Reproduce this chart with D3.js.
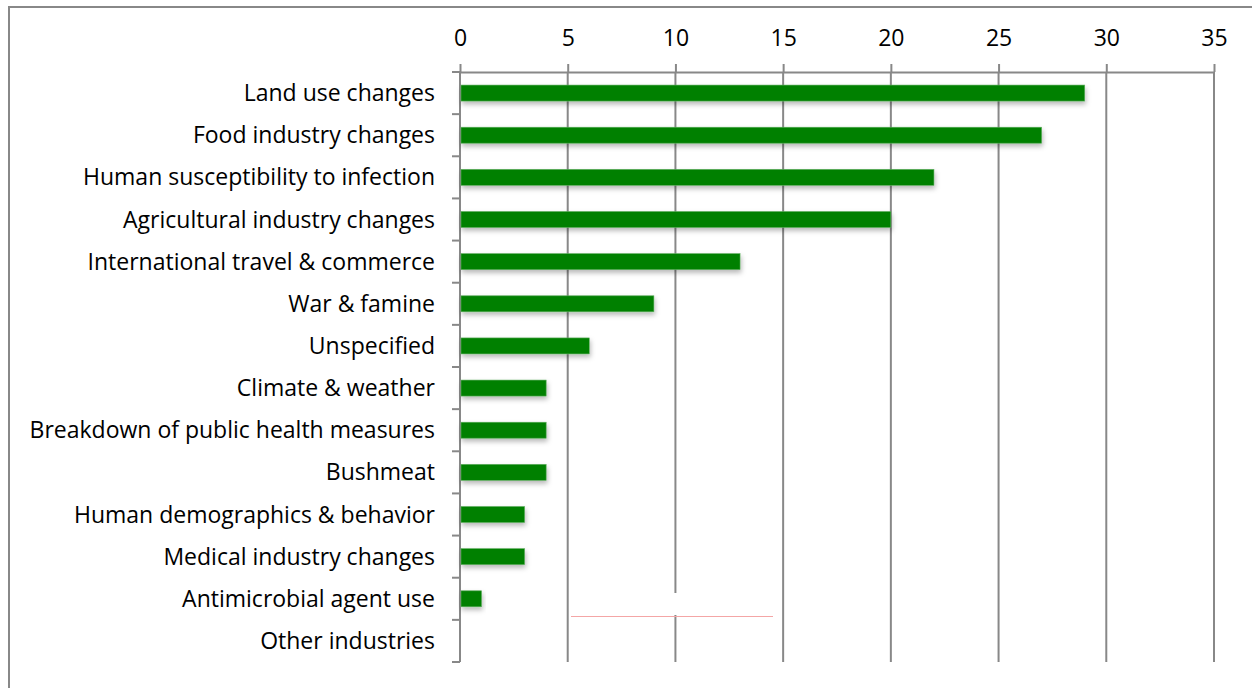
<!DOCTYPE html>
<html>
<head>
<meta charset="utf-8">
<script src="https://cdn.jsdelivr.net/npm/d3@7"></script>
<style>
  body { margin: 0; background: #fff; }
  svg { display: block; }
</style>
</head>
<body>
<div class="container"></div>
<script>
// chart data
const categories = [
  "Land use changes", "Food industry changes", "Human susceptibility to infection",
  "Agricultural industry changes", "International travel & commerce", "War & famine",
  "Unspecified", "Climate & weather", "Breakdown of public health measures",
  "Bushmeat", "Human demographics & behavior", "Medical industry changes",
  "Antimicrobial agent use", "Other industries"
];
const values = [29, 27, 22, 20, 13, 9, 6, 4, 4, 4, 3, 3, 1, 0];
const xTicks = [0, 5, 10, 15, 20, 25, 30, 35];

// size of the page and plot area
const width = 1252;
const height = 688;
const margin = { top: 72, bottom: 26, left: 460, right: 38 };
const font = "'Open Sans', Lato, sans-serif";

const svg = d3.select(".container")
  .append("svg")
  .attr("width", width)
  .attr("height", height);

// drop shadow under the bars
const defs = svg.append("defs");
const f = defs.append("filter").attr("id", "shadow")
  .attr("x", "-10%").attr("y", "-50%").attr("width", "130%").attr("height", "250%");
f.append("feDropShadow")
  .attr("dx", 1).attr("dy", 3).attr("stdDeviation", 2.5)
  .attr("flood-color", "#000").attr("flood-opacity", 0.28);

// outer frame
svg.append("rect")
  .attr("x", 9).attr("y", 7)
  .attr("width", width + 20).attr("height", height + 20)
  .attr("fill", "none")
  .attr("stroke", "#888")
  .attr("stroke-width", 2);

const xScale = d3.scaleLinear()
  .domain([0, 35])
  .range([margin.left, width - margin.right]);

const yScale = d3.scaleBand()
  .domain(categories)
  .range([margin.top, height - margin.bottom])
  .paddingInner(0.62)
  .paddingOuter(0.31);

const plotBottom = height - margin.bottom;

// vertical grid lines
svg.append("g")
  .selectAll("line")
  .data(xTicks.slice(1))
  .join("line")
  .attr("x1", d => xScale(d)).attr("x2", d => xScale(d))
  .attr("y1", margin.top).attr("y2", plotBottom)
  .attr("stroke", "#888")
  .attr("stroke-width", 2);

// top axis
const xAxis = svg.append("g")
  .attr("transform", `translate(0, ${margin.top})`)
  .call(d3.axisTop(xScale).tickValues(xTicks).tickSize(8).tickSizeOuter(0).tickPadding(18));
xAxis.select(".domain").attr("stroke", "#888").attr("stroke-width", 2);
xAxis.selectAll(".tick line").attr("stroke", "#888").attr("stroke-width", 2);
xAxis.selectAll(".tick text")
  .attr("font-family", font)
  .attr("font-size", "23px")
  .attr("fill", "#000");

// left axis with ticks between the categories
const bounds = d3.range(categories.length + 1).map(i => margin.top + i * (plotBottom - margin.top) / categories.length);
svg.append("line")
  .attr("x1", margin.left).attr("x2", margin.left)
  .attr("y1", margin.top).attr("y2", plotBottom)
  .attr("stroke", "#888").attr("stroke-width", 2);
svg.append("g")
  .selectAll("line")
  .data(bounds)
  .join("line")
  .attr("x1", margin.left - 8).attr("x2", margin.left)
  .attr("y1", d => d).attr("y2", d => d)
  .attr("stroke", "#888").attr("stroke-width", 2);

// category labels
svg.append("g")
  .selectAll("text")
  .data(categories)
  .join("text")
  .attr("x", margin.left - 25)
  .attr("y", d => yScale(d) + yScale.bandwidth() / 2)
  .attr("dy", "0.35em")
  .attr("text-anchor", "end")
  .attr("font-family", font)
  .attr("font-size", "23px")
  .attr("fill", "#000")
  .text(d => d);

// stray red line and gridline gap seen in the original
svg.append("rect")
  .attr("x", xScale(10) - 2).attr("y", 593)
  .attr("width", 4).attr("height", 22)
  .attr("fill", "#fff");
svg.append("line")
  .attr("x1", 571).attr("x2", 773)
  .attr("y1", 616.5).attr("y2", 616.5)
  .attr("stroke", "#f4a6a6").attr("stroke-width", 1);

// bars
svg.append("g")
  .selectAll("rect")
  .data(values.map((v, i) => ({ name: categories[i], value: v })).filter(d => d.value > 0))
  .join("rect")
  .attr("x", xScale(0) + 1)
  .attr("y", d => yScale(d.name))
  .attr("width", d => xScale(d.value) - xScale(0) - 1)
  .attr("height", yScale.bandwidth())
  .attr("fill", "#008000")
  .attr("stroke", "#5fae5f")
  .attr("stroke-width", 0.6)
  .attr("filter", "url(#shadow)");
</script>
</body>
</html>
